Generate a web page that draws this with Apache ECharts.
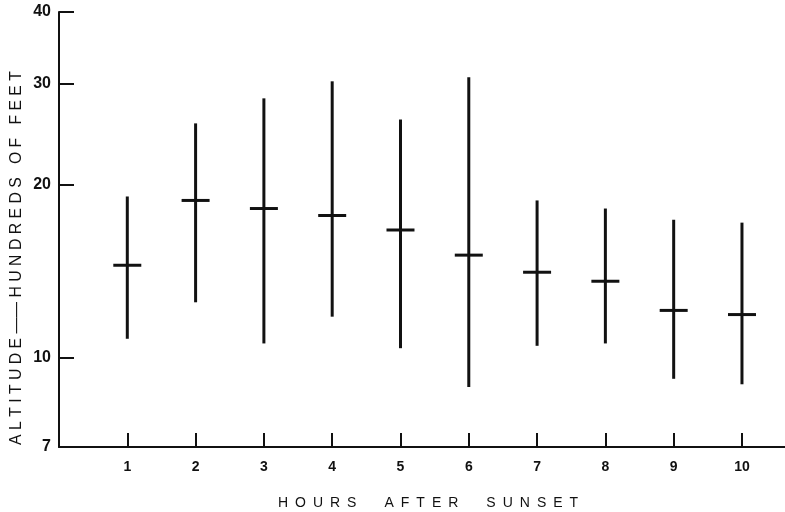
<!DOCTYPE html>
<html>
<head>
<meta charset="utf-8">
<script src="https://cdn.jsdelivr.net/npm/echarts@6/dist/echarts.min.js"></script>
<style>html,body{margin:0;padding:0;background:#fff;}#chart{width:785px;height:512px;}</style>
</head>
<body>
<div id="chart"></div>
<script>
// Hours after sunset (categories)
var hours = [1, 2, 3, 4, 5, 6, 7, 8, 9, 10];
// Altitude, hundreds of feet
var lowValues  = [10.8, 12.5, 10.6, 11.8, 10.4, 8.9, 10.5, 10.6, 9.2, 9.0];
var highValues = [19.1, 25.6, 28.3, 30.3, 26.0, 30.8, 18.8, 18.2, 17.4, 17.2];
var meanValues = [14.5, 18.8, 18.2, 17.7, 16.7, 15.1, 14.1, 13.6, 12.1, 11.9];
// Axis tick labels
var yTicks = [7, 10, 20, 30, 40];
var xTicks = hours;
// Axis titles
var xTitle = 'HOURS AFTER SUNSET';
var yTitle = 'ALTITUDE——HUNDREDS OF FEET';

function spaced(s, gap, wordGap) {
  return s.split(' ').map(function (w) {
    return w.split('').join(gap);
  }).join(wordGap).split('—' + gap + '—').join('——');
}

var barData = hours.map(function (h, i) { return [h, lowValues[i], highValues[i], meanValues[i]]; });

var chart = echarts.init(document.getElementById('chart'), null, { renderer: 'canvas' });
var ink = '#111';
var option = {
  backgroundColor: '#fff',
  animation: false,
  grid: { left: 59, top: 12, right: 0, bottom: 65, containLabel: false },
  xAxis: {
    type: 'value', min: 0, max: 10.63,
    splitLine: { show: false },
    axisLine: { show: true, onZero: false, lineStyle: { color: ink, width: 2 } },
    axisTick: { show: true, inside: true, length: 14, customValues: xTicks, lineStyle: { color: ink, width: 2 } },
    axisLabel: { customValues: xTicks, margin: 13, color: ink, fontFamily: 'Liberation Sans', fontWeight: 'bold', fontSize: 14 }
  },
  yAxis: {
    type: 'log', min: 7, max: 40, logBase: 10,
    splitLine: { show: false },
    axisLine: { show: true, onZero: false, lineStyle: { color: ink, width: 2 } },
    axisTick: { show: true, inside: true, length: 15, customValues: yTicks, lineStyle: { color: ink, width: 2 } },
    axisLabel: { customValues: yTicks, margin: 8, color: ink, fontFamily: 'Liberation Sans', fontWeight: 'bold', fontSize: 16 }
  },
  graphic: [
    {
      type: 'text', x: 428, y: 503,
      style: {
        text: spaced(xTitle, '\u2002', '\u2002\u2002\u2002\u2002'),
        fill: ink, font: '14px "Liberation Sans"', align: 'center', verticalAlign: 'middle'
      }
    },
    {
      type: 'text', x: 17, y: 258, rotation: Math.PI / 2,
      style: {
        text: spaced(yTitle, ' ', '   '),
        fill: ink, font: '15.8px "Liberation Sans"', align: 'center', verticalAlign: 'middle'
      }
    }
  ],
  series: [{
    type: 'custom',
    data: barData,
    encode: { x: 0, y: [1, 2, 3] },
    renderItem: function (params, api) {
      var x = api.value(0);
      var lo = api.coord([x, api.value(1)]);
      var hi = api.coord([x, api.value(2)]);
      var mn = api.coord([x, api.value(3)]);
      var hw = 14;
      return {
        type: 'group',
        children: [
          { type: 'line', shape: { x1: lo[0], y1: lo[1], x2: hi[0], y2: hi[1] }, style: { stroke: ink, lineWidth: 3 } },
          { type: 'line', shape: { x1: mn[0] - hw, y1: mn[1], x2: mn[0] + hw, y2: mn[1] }, style: { stroke: ink, lineWidth: 3 } }
        ]
      };
    }
  }]
};
chart.setOption(option);
</script>
</body>
</html>
